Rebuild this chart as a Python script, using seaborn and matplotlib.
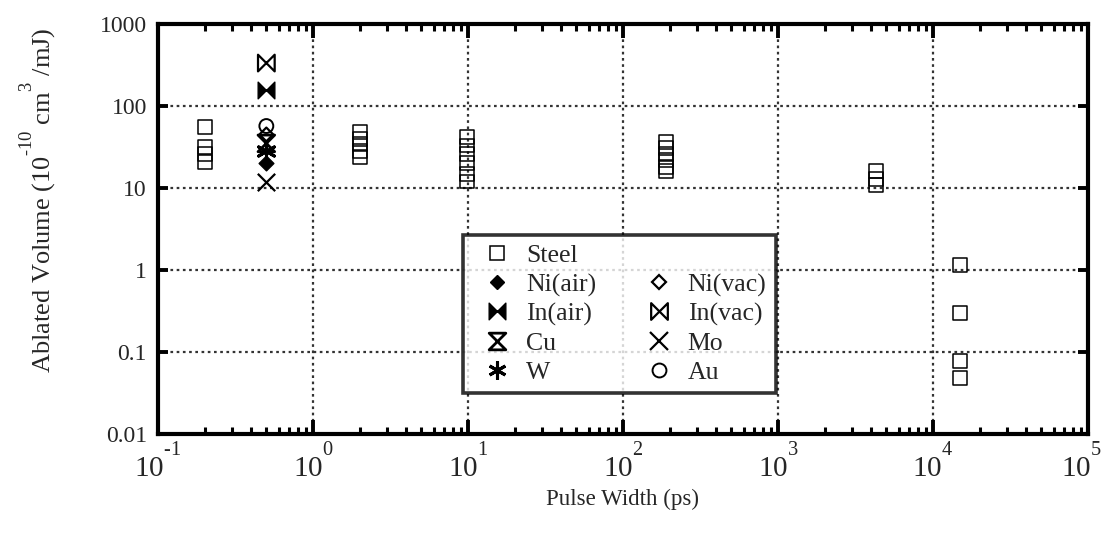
import numpy as np
import pandas as pd
import matplotlib
matplotlib.use("Agg")
import matplotlib.pyplot as plt
import matplotlib.transforms as mtransforms
import matplotlib._mathtext as _mt
import seaborn as sns
from matplotlib.path import Path
from matplotlib.lines import Line2D
from matplotlib.ticker import FixedLocator, FixedFormatter, LogLocator, NullLocator, NullFormatter

# ---------------- data ----------------
steel_pw = [0.2, 0.2, 0.2, 0.2,
            2, 2, 2, 2, 2,
            9.8, 9.8, 9.8, 9.8, 9.8, 9.8,
            190, 190, 190, 190, 190, 190,
            4300, 4300, 4300,
            15000, 15000, 15000, 15000]
steel_vol = [55, 32, 26, 21,
             48, 40, 34, 28, 24,
             42, 33, 26, 20, 15, 12,
             36, 31, 26, 22, 18, 16,
             16, 13, 11,
             1.15, 0.3, 0.078, 0.048]

other_materials = ["Ni(air)", "Ni(vac)", "In(air)", "In(vac)", "Cu", "Mo", "W", "Au"]
other_pw = [0.5, 0.5, 0.5, 0.5, 0.5, 0.5, 0.5, 0.5]
other_vol = [20, 45, 157, 334, 35, 12, 28, 57]

x_ticks = [0.1, 1, 10, 100, 1000, 10000, 100000]
x_ticklabels = ["$\\mathrm{10}^{\u20101}$", r"$\mathrm{10}^{0}$", r"$\mathrm{10}^{1}$", r"$\mathrm{10}^{2}$",
                r"$\mathrm{10}^{3}$", r"$\mathrm{10}^{4}$", r"$\mathrm{10}^{5}$"]
y_ticks = [0.01, 0.1, 1, 10, 100, 1000]
y_ticklabels = ["0.01", "0.1", "1", "10", "100", "1000"]

legend_order = ["Steel", "Ni(air)", "In(air)", "Cu", "W", None, "Ni(vac)", "In(vac)", "Mo", "Au"]

df = pd.DataFrame({
    "material": ["Steel"] * len(steel_pw) + other_materials,
    "pw": steel_pw + other_pw,
    "vol": steel_vol + other_vol,
})

# ---------------- styling ----------------
sns.set_style("white")
plt.rcParams["font.family"] = ["Liberation Serif", "DejaVu Serif"]
plt.rcParams["mathtext.fontset"] = "custom"
plt.rcParams["mathtext.rm"] = "Liberation Serif"
plt.rcParams["mathtext.it"] = "Liberation Serif:italic"
plt.rcParams["mathtext.bf"] = "Liberation Serif:bold"
# raise superscripts higher, as in the typeset original
try:
    _mt.FontConstantsBase.sup1 = 1.5
except Exception:
    pass

M, L, C = Path.MOVETO, Path.LINETO, Path.CLOSEPOLY
bowtie = Path([(-1, 1), (-1, -1), (0, 0), (-1, 1), (1, 1), (1, -1), (0, 0), (1, 1)],
              [M, L, L, C, M, L, L, C])
hourglass = Path([(-1, 1), (1, 1), (0, 0), (-1, 1), (-1, -1), (1, -1), (0, 0), (-1, -1)],
                 [M, L, L, C, M, L, L, C])

# material -> (marker, size in points, facecolor (None = unfilled marker), edge width)
styles = {
    "Steel":   ("s", 10.0, "none", 1.1),
    "Ni(air)": ("D", 7.5, "black", 1.0),
    "Ni(vac)": ("D", 7.0, "none", 1.6),
    "In(air)": (bowtie, 12.0, "black", 1.0),
    "In(vac)": (bowtie, 12.0, "none", 1.6),
    "Cu":      (hourglass, 12.0, "none", 2.0),
    "Mo":      ("x", 12.5, None, 1.6),
    "W":       ((6, 2, 0), 13.0, None, 2.2),
    "Au":      ("o", 10.0, "none", 1.4),
}

fig = plt.figure(figsize=(11.06, 5.36), dpi=100)
ax = fig.add_axes([158 / 1106, 1 - 434 / 536, 930 / 1106, 410 / 536])
ax.set_xscale("log")
ax.set_yscale("log")

for mat, sub in df.groupby("material", sort=False):
    mk, ms, fc, lw = styles[mat]
    kw = dict(marker=mk, s=ms ** 2, linewidth=lw, zorder=3, legend=False, ax=ax)
    if fc is None:
        kw["color"] = "black"
    else:
        kw["facecolor"] = fc
        kw["edgecolor"] = "black"
    sns.scatterplot(data=sub, x="pw", y="vol", **kw)

ax.set_xlim(0.1, 1e5)
ax.set_ylim(0.01, 1000)

ax.xaxis.set_major_locator(FixedLocator(x_ticks))
ax.xaxis.set_major_formatter(FixedFormatter(x_ticklabels))
ax.xaxis.set_minor_locator(LogLocator(base=10, subs=np.arange(2, 10), numticks=20))
ax.xaxis.set_minor_formatter(NullFormatter())
ax.yaxis.set_major_locator(FixedLocator(y_ticks))
ax.yaxis.set_major_formatter(FixedFormatter(y_ticklabels))
ax.yaxis.set_minor_locator(NullLocator())

ax.tick_params(axis="x", which="major", direction="in", top=True, bottom=True,
               length=10, width=2.8, labelsize=21, pad=6, color="black")
ax.tick_params(axis="x", which="minor", direction="in", top=True, bottom=True,
               length=5, width=2.2, color="black")
ax.tick_params(axis="y", which="major", direction="in", left=True, right=True,
               length=7, width=2.8, labelsize=17, pad=8, color="black")

for sp in ax.spines.values():
    sp.set_visible(True)
    sp.set_linewidth(3.0)
    sp.set_color("black")

ax.grid(True, which="major", linestyle=(0, (1.2, 1.6)), linewidth=1.6, color="#333333")
ax.set_axisbelow(True)

ax.set_xlabel("Pulse Width (ps)", fontsize=16.5, labelpad=5)
ax.set_ylabel("Ablated Volume (10$^{\u201010}$ cm$^{3}$ /mJ)", fontsize=19)
ax.yaxis.set_label_coords(-0.108, 0.57)

# legend
handles, labels = [], []
for name in legend_order:
    if name is None:
        handles.append(Line2D([], [], linestyle="none", marker=None))
        labels.append("")
        continue
    mk, ms, fc, lw = styles[name]
    if fc is None:
        h = Line2D([], [], linestyle="none", marker=mk, markersize=ms, color="black",
                   markeredgewidth=lw)
    else:
        h = Line2D([], [], linestyle="none", marker=mk, markersize=ms,
                   markerfacecolor=fc, markeredgecolor="black", markeredgewidth=lw)
    handles.append(h)
    labels.append(name)

leg = ax.legend(handles, labels, ncol=2, loc="upper left",
                bbox_to_anchor=((463 - 158) / 930, (434 - 235) / 410),
                fontsize=18.5, frameon=True, fancybox=False, shadow=False,
                handlelength=1.95, handletextpad=0.15, columnspacing=1.45,
                labelspacing=0.23, borderpad=0.36, borderaxespad=0, numpoints=1)
leg.get_frame().set_edgecolor("black")
leg.get_frame().set_linewidth(2.6)
leg.get_frame().set_facecolor("white")
leg.set_zorder(5)

# keep the last x tick label inside the figure
last = ax.get_xticklabels()[-1]
last.set_transform(last.get_transform() +
                   mtransforms.ScaledTranslation(-7 / 100, 0, fig.dpi_scale_trans))

fig.savefig("out.png", dpi=100)
